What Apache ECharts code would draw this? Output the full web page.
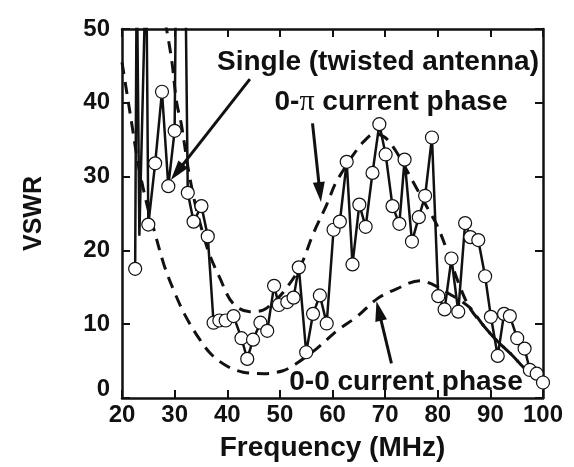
<!DOCTYPE html>
<html><head><meta charset="utf-8">
<script src="https://cdn.jsdelivr.net/npm/echarts@6/dist/echarts.min.js"></script>
<style>html,body{margin:0;padding:0;background:#fff}#c{width:574px;height:467px}</style>
</head><body><div id="c"></div>
<script>
// Single (twisted antenna) measured VSWR
const singleFreq = [22.5, 22.8, 23.3, 24.6, 25.0, 26.3, 27.6, 28.8, 30.0, 30.3, 32.0, 32.5, 33.6, 35.1, 36.3, 37.4, 38.5, 39.7, 41.2, 42.7, 43.8, 44.9, 46.3, 47.6, 48.9, 49.8, 51.4, 52.6, 53.6, 55.0, 56.3, 57.6, 58.9, 60.2, 61.4, 62.7, 63.8, 65.1, 66.3, 67.6, 68.9, 70.1, 71.4, 72.7, 73.7, 75.1, 76.4, 77.6, 78.9, 80.1, 81.3, 82.6, 83.9, 85.2, 86.2, 87.7, 89.0, 90.1, 91.4, 92.6, 93.7, 95.1, 96.5, 97.5, 98.8, 100.0];
const singleVswr = [17.5, 60, 22, 60, 23.5, 31.8, 41.5, 28.7, 36.2, 60, 60, 27.8, 23.9, 26.0, 21.9, 10.2, 10.5, 10.5, 11.1, 8.1, 5.3, 7.9, 10.2, 9.1, 15.2, 12.6, 13.0, 13.6, 17.7, 6.2, 11.4, 13.9, 10.1, 22.8, 23.9, 32.0, 18.1, 26.2, 23.2, 30.5, 37.1, 33.0, 26.0, 23.6, 32.3, 21.2, 24.5, 27.4, 35.3, 13.8, 12.0, 18.9, 11.7, 23.7, 21.8, 21.4, 16.5, 11.0, 5.7, 11.4, 11.1, 8.1, 6.7, 3.8, 3.3, 2.1];
const singleMarker = [1, 0, 0, 0, 1, 1, 1, 1, 1, 0, 0, 1, 1, 1, 1, 1, 1, 1, 1, 1, 1, 1, 1, 1, 1, 1, 1, 1, 1, 1, 1, 1, 1, 1, 1, 1, 1, 1, 1, 1, 1, 1, 1, 1, 1, 1, 1, 1, 1, 1, 1, 1, 1, 1, 1, 1, 1, 1, 1, 1, 1, 1, 1, 1, 1, 1];

// 0-pi current phase (calculated)
const zeroPiFreq = [28.2, 29.4, 30.4, 31.3, 32.6, 34.0, 35.5, 36.6, 38.5, 41.1, 44.3, 46.8, 48.5, 50.6, 53.8, 56.3, 58.9, 60.5, 62, 64, 66, 68, 70, 72, 74, 76, 78, 80, 82, 84, 86, 88.6, 91.2, 94, 97, 100];
const zeroPiVswr = [51, 46, 40, 37, 31, 26, 22, 19.5, 16.4, 12.8, 11.7, 11.9, 12.8, 14.3, 17.7, 22.2, 26.2, 29, 30.8, 33, 34.8, 35.8, 35.3, 33.5, 31, 28.4, 25.8, 23.2, 19.5, 15.5, 12.3, 9.9, 7.8, 5.9, 3.7, 2.3];

// 0-0 current phase (calculated)
const zeroZeroFreq = [20, 21, 22, 23, 24, 25, 26, 28, 30, 32, 34.7, 37, 40, 43, 47, 50.6, 53, 57, 61, 64.6, 68.4, 72.2, 76.6, 79, 82, 86, 88.6, 91.2, 94, 97, 100];
const zeroZeroVswr = [45.5, 41, 36.5, 32, 28.5, 25.5, 23, 18, 14.3, 11.2, 8.0, 5.9, 4.3, 3.5, 3.3, 3.7, 4.6, 6.7, 9.2, 11.0, 13.4, 14.8, 15.9, 15.4, 14.2, 12.3, 9.9, 7.8, 5.9, 3.7, 2.3];

const xMin = 20, xMax = 100, xStep = 10;
const yMin = 0, yMax = 50, yStep = 10;

const FONT = 'Liberation Sans';
const pairs = (xs, ys) => xs.map((x, i) => [x, ys[i]]);
const singleData = singleFreq.map((x, i) => singleMarker[i]
  ? { value: [x, singleVswr[i]] }
  : { value: [x, singleVswr[i]], symbol: 'none' });

const chart = echarts.init(document.getElementById('c'), null, { renderer: 'canvas' });
const dashStyle = { color: '#111', width: 3, type: [12, 8] };
const tickLabel = { fontFamily: FONT, fontWeight: 'bold', fontSize: 24, color: '#111' };

chart.setOption({
  animation: false,
  backgroundColor: '#fff',
  grid: { left: 122, right: 31, top: 29, bottom: 65 },
  xAxis: [
    {
      type: 'value', min: xMin, max: xMax, interval: xStep, position: 'bottom',
      axisLine: { show: true, onZero: false, lineStyle: { color: '#111', width: 2.5 } },
      axisTick: { show: true, inside: true, length: 8, lineStyle: { color: '#111', width: 2 } },
      axisLabel: Object.assign({ margin: 5 }, tickLabel),
      splitLine: { show: false },
      name: 'Frequency (MHz)', nameLocation: 'middle', nameGap: 36,
      nameTextStyle: { fontFamily: FONT, fontWeight: 'bold', fontSize: 28, color: '#111' }
    },
    {
      type: 'value', min: xMin, max: xMax, interval: xStep, position: 'top',
      axisLine: { show: true, onZero: false, lineStyle: { color: '#111', width: 2.5 } },
      axisTick: { show: true, inside: true, length: 8, lineStyle: { color: '#111', width: 2 } },
      axisLabel: { show: false }, splitLine: { show: false }
    }
  ],
  yAxis: [
    {
      type: 'value', min: yMin, max: yMax, interval: yStep, position: 'left',
      axisLine: { show: true, onZero: false, lineStyle: { color: '#111', width: 2.5 } },
      axisTick: { show: true, inside: true, length: 8, lineStyle: { color: '#111', width: 2 } },
      axisLabel: Object.assign({
        margin: 12,
        formatter: v => v === 0 ? '{z|0}' : String(v),
        rich: { z: { fontFamily: FONT, fontWeight: 'bold', fontSize: 24, color: '#111', padding: [0, 0, 18, 0] } }
      }, tickLabel),
      splitLine: { show: false },
      name: 'VSWR', nameLocation: 'middle', nameGap: 75, nameRotate: 90,
      nameTextStyle: { fontFamily: FONT, fontWeight: 'bold', fontSize: 25, color: '#111' }
    },
    {
      type: 'value', min: yMin, max: yMax, interval: yStep, position: 'right',
      axisLine: { show: true, onZero: false, lineStyle: { color: '#111', width: 2.5 } },
      axisTick: { show: true, inside: true, length: 8, lineStyle: { color: '#111', width: 2 } },
      axisLabel: { show: false }, splitLine: { show: false }
    }
  ],
  series: [
    {
      name: '0-0 current phase', type: 'line', xAxisIndex: 0, yAxisIndex: 0,
      data: pairs(zeroZeroFreq, zeroZeroVswr), symbol: 'none', smooth: 0.35,
      lineStyle: dashStyle, silent: true, z: 2
    },
    {
      name: '0-pi current phase', type: 'line', xAxisIndex: 0, yAxisIndex: 0,
      data: pairs(zeroPiFreq, zeroPiVswr), symbol: 'none', smooth: 0.35,
      lineStyle: dashStyle, silent: true, z: 2
    },
    {
      name: 'Single (twisted antenna)', type: 'line', xAxisIndex: 0, yAxisIndex: 0,
      data: singleData, symbol: 'circle', symbolSize: 13, showAllSymbol: true,
      lineStyle: { color: '#111', width: 2.5 },
      itemStyle: { color: '#fff', borderColor: '#111', borderWidth: 1.2 },
      silent: true, z: 3,
      markLine: {
        silent: true, animation: false,
        symbol: ['none', 'triangle'], symbolSize: [12, 20],
        label: { show: false },
        lineStyle: { color: '#111', width: 3, type: 'solid' },
        emphasis: { disabled: true },
        data: [
          [{ coord: [44.3, 43.2] }, { coord: [30.45, 30.6] }],
          [{ coord: [56.2, 37.2] }, { coord: [57.6, 27.9] }],
          [{ coord: [71.2, 4.7] }, { coord: [68.8, 11.8] }]
        ]
      }
    }
  ],
  graphic: [
    {
      type: 'text', z: 10, position: [378, 62],
      style: { text: 'Single (twisted antenna)', align: 'center', verticalAlign: 'middle',
        fontFamily: FONT, fontWeight: 'bold', fontSize: 28, fill: '#111' }
    },
    {
      type: 'text', z: 10, position: [391, 102],
      style: {
        text: '{a|0-}{p|π}{a| current phase}', align: 'center', verticalAlign: 'middle',
        rich: {
          a: { fontFamily: FONT, fontWeight: 'bold', fontSize: 28, fill: '#111' },
          p: { fontFamily: 'Liberation Serif', fontWeight: 'normal', fontSize: 30, fill: '#111' }
        }
      }
    },
    {
      type: 'text', z: 10, position: [406, 382],
      style: { text: '0-0 current phase', align: 'center', verticalAlign: 'middle',
        fontFamily: FONT, fontWeight: 'bold', fontSize: 28, fill: '#111' }
    }
  ]
});
</script>
</body></html>
